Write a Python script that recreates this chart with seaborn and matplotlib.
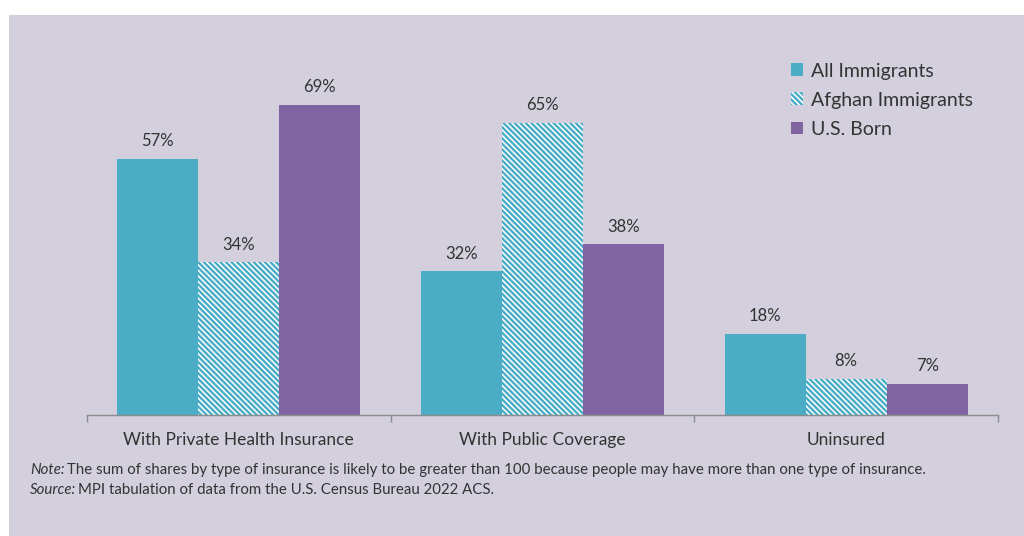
import matplotlib
matplotlib.use("Agg")
import matplotlib.pyplot as plt
import seaborn as sns
import pandas as pd
from matplotlib.patches import Patch, Rectangle

categories = ["With Private Health Insurance", "With Public Coverage", "Uninsured"]
series = ["All Immigrants", "Afghan Immigrants", "U.S. Born"]
all_immigrants = [57, 32, 18]
afghan_immigrants = [34, 65, 8]
us_born = [69, 38, 7]

TEAL = "#4BACC6"
PURPLE = "#8064A2"
BG = "#D3CFDC"
TXT = "#333333"
HATCH = "\\" * 6

sns.set_theme(style="white")
plt.rcParams["font.family"] = ["Lato", "DejaVu Sans"]
plt.rcParams["hatch.linewidth"] = 1.1

rows = []
for s, vals in zip(series, [all_immigrants, afghan_immigrants, us_born]):
    for c, v in zip(categories, vals):
        rows.append({"cat": c, "series": s, "value": v})
df = pd.DataFrame(rows)

fig = plt.figure(figsize=(10.24, 5.36), dpi=100)
fig.patch.set_facecolor("white")
fig.patches.append(Rectangle((9 / 1024, 0), 1 - 9 / 1024, 1 - 15 / 536,
                             transform=fig.transFigure, facecolor=BG,
                             edgecolor="none", zorder=-10))

ax = fig.add_axes([87 / 1024, 1 - 415 / 536, (998 - 87) / 1024, (415 - 40) / 536])
ax.set_facecolor("none")

sns.barplot(data=df, x="cat", y="value", hue="series", order=categories,
            hue_order=series, palette=[TEAL, TEAL, PURPLE], width=0.8,
            saturation=1, ax=ax, legend=False, linewidth=0, edgecolor="none")

for cont, s in zip(ax.containers, series):
    for bar in cont:
        if s == "Afghan Immigrants":
            bar.set_facecolor(TEAL)
            bar.set_edgecolor("white")
            bar.set_hatch(HATCH)
            bar.set_linewidth(0)
    ax.bar_label(cont, labels=[f"{int(round(b.get_height()))}%" for b in cont],
                 padding=7, fontsize=12, color=TXT)

ax.set_xlim(-0.5, 2.5)
ax.set_ylim(0, 83.5)
ax.set_xlabel("")
ax.set_ylabel("")
ax.set_yticks([])
for sp in ["top", "right", "left"]:
    ax.spines[sp].set_visible(False)
ax.spines["bottom"].set_color("#8C8C8C")
ax.spines["bottom"].set_linewidth(1.0)
ax.set_xticks([0, 1, 2])
ax.set_xticklabels(categories, fontsize=12.5, color=TXT)
ax.tick_params(axis="x", which="major", length=0, pad=12.5)
ax.set_xticks([-0.5, 0.5, 1.5, 2.5], minor=True)
ax.tick_params(axis="x", which="minor", length=5, color="#8C8C8C", width=1.0,
               direction="out", bottom=True)

handles = [Patch(facecolor=TEAL, edgecolor="none", linewidth=0),
           Patch(facecolor=TEAL, edgecolor="white", hatch=HATCH, linewidth=0),
           Patch(facecolor=PURPLE, edgecolor="none", linewidth=0)]
fig.legend(handles, series, loc="upper left",
           bbox_to_anchor=(781 / 1024, 1 - 53 / 536), frameon=False,
           fontsize=14, handlelength=0.65, handleheight=0.65,
           handletextpad=0.4, labelspacing=0.62, borderpad=0,
           labelcolor=TXT)

fig.canvas.draw()
renderer = fig.canvas.get_renderer()
inv = fig.transFigure.inverted()


def two_part(y, lead, body, size=10.8):
    t1 = fig.text(30 / 1024, y, lead, fontsize=size, style="italic",
                  color=TXT, va="center", ha="left")
    bb = t1.get_window_extent(renderer)
    x1 = inv.transform((bb.x1 + 2, 0))[0]
    fig.text(x1, y, body, fontsize=size, color=TXT, va="center", ha="left")


two_part(1 - 470 / 536, "Note:",
         "The sum of shares by type of insurance is likely to be greater than 100 because people may have more than one type of insurance.")
two_part(1 - 490 / 536, "Source:",
         "MPI tabulation of data from the U.S. Census Bureau 2022 ACS.")

fig.savefig("out.png", dpi=100, facecolor="white")
